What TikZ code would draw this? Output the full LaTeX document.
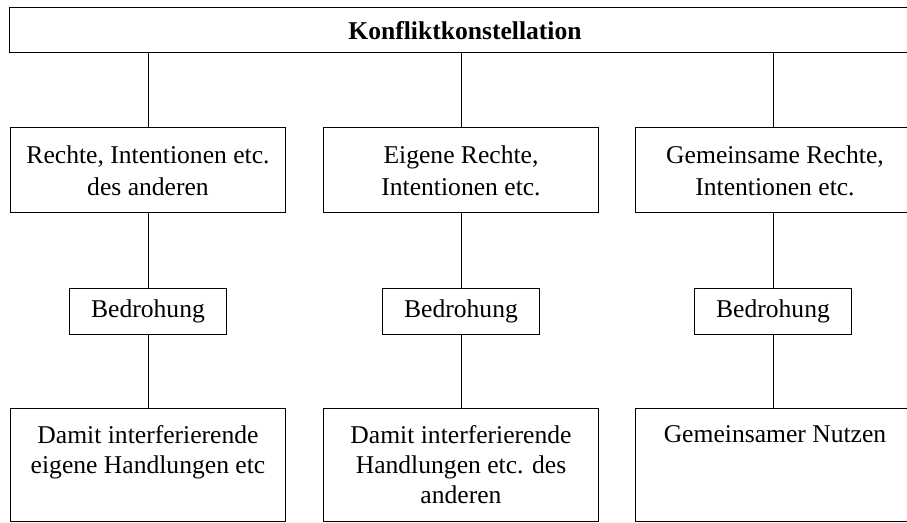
\documentclass[tikz,border=0pt]{standalone}
\usepackage{fontspec}
\setmainfont{Liberation Serif}
\usetikzlibrary{positioning}

\newcommand{\obentext}[1]{\parbox[t][40pt][t]{134pt}{\centering #1}}

\tikzset{
  kasten/.style={draw,line width=0.5pt,minimum width=137.5pt,align=center,
    font=\fontsize{12.8}{16}\selectfont},
  bedrohung/.style={draw,line width=0.5pt,minimum width=78.5pt,minimum height=23pt,
    font=\fontsize{12.8}{15}\selectfont},
  unten/.style={draw,line width=0.5pt,minimum width=137.5pt,minimum height=56.5pt,
    inner xsep=0pt,inner ysep=8.25pt,font=\fontsize{12.8}{15}\selectfont}
}

\begin{document}
\begin{tikzpicture}[x=0.5pt,y=-0.5pt,line width=0.5pt]
  \fill[white] (0,0) rectangle (907,523);
  \useasboundingbox (0,0) rectangle (907,523);

  % Oberster Kasten
  \node[draw,minimum width=456pt,minimum height=22.5pt,font=\fontsize{12.8}{15}\selectfont\bfseries]
    (kk) at (465,30.5) {Konfliktkonstellation};

  % Rechte, Intentionen
  \node[kasten,minimum height=42.5pt] (r1) at (148,170.5) {Rechte, Intentionen etc.\\des anderen};
  \node[kasten,minimum height=42.5pt] (r2) at (461,170.5) {Eigene Rechte,\\Intentionen etc.};
  \node[kasten,minimum height=42.5pt,minimum width=140pt] (r3) at (775,170.5) {Gemeinsame Rechte,\\Intentionen etc.};

  % Bedrohung
  \node[bedrohung] (b1) at (148,311.5) {Bedrohung};
  \node[bedrohung] (b2) at (461,311.5) {Bedrohung};
  \node[bedrohung] (b3) at (773,311.5) {Bedrohung};

  % Handlungen, Nutzen
  \node[unten] (h1) at (148,465.5) {\obentext{Damit interferierende\\eigene Handlungen etc}};
  \node[unten] (h2) at (461,465.5) {\obentext{Damit interferierende\\Handlungen etc. des\\anderen}};
  \node[unten,minimum width=140pt] (h3) at (775,465.5) {\obentext{Gemeinsamer Nutzen}};

  % Verbindungen
  \draw (kk.south -| r1.north) -- (r1.north);
  \draw (kk.south -| r2.north) -- (r2.north);
  \draw (kk.south -| b3.north) -- (r3.north -| b3.north);
  \draw (r1) -- (b1);
  \draw (r2) -- (b2);
  \draw (r3.south -| b3.north) -- (b3);
  \draw (b1) -- (h1);
  \draw (b2) -- (h2);
  \draw (b3) -- (h3.north -| b3.south);
\end{tikzpicture}
\end{document}
